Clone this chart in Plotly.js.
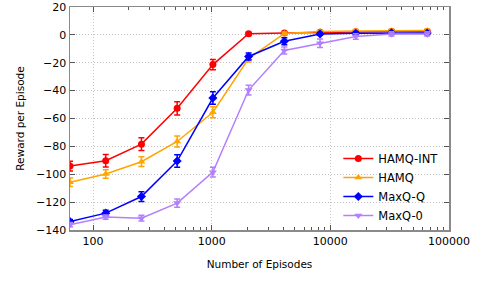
<!DOCTYPE html>
<html>
<head>
<meta charset="utf-8">
<script src="https://cdn.plot.ly/plotly-3.0.1.min.js"></script>
<style>html,body{margin:0;padding:0;background:#fff;}#chart{width:479px;height:281px;}</style>
</head>
<body>
<div id="chart"></div>
<script>
const episodes = [64, 128, 256, 512, 1024, 2048, 4096, 8192, 16384, 32768, 65536];

const hamqIntY   = [-94.1, -90.3, -78.4, -52.7, -21.3, 0.8, 1.3, 1.8, 2.3, 2.5, 2.5];
const hamqIntErr = [3.5, 4.5, 4.5, 4.8, 3.7, 1.0, 1.0, 1.0, 1.0, 1.0, 1.0];

const hamqY   = [-105.7, -99.8, -91.0, -76.5, -55.5, -17.0, 1.0, 2.4, 2.8, 3.0, 3.2];
const hamqErr = [3.0, 3.0, 3.5, 4.0, 4.0, 2.5, 1.0, 1.0, 1.0, 1.0, 1.0];

const maxqQY   = [-134.0, -127.9, -116.0, -90.5, -45.3, -15.5, -4.6, 0.7, 1.2, 1.5, 1.3];
const maxqQErr = [1.5, 2.0, 3.5, 4.5, 4.5, 2.5, 2.5, 1.0, 1.0, 1.0, 1.0];

const maxq0Y   = [-136.2, -130.7, -131.5, -120.7, -98.5, -39.6, -11.2, -6.0, -1.2, 0.7, 0.7];
const maxq0Err = [1.5, 1.5, 2.0, 3.0, 3.5, 3.5, 2.5, 3.0, 2.0, 1.5, 1.5];

const names   = ["HAMQ-INT", "HAMQ", "MaxQ-Q", "MaxQ-0"];
const colors  = ["#ff0000", "#ffa500", "#0000ff", "#b27fff"];
const symbols = ["circle", "triangle-up", "diamond", "triangle-down"];
const ys   = [hamqIntY, hamqY, maxqQY, maxq0Y];
const errs = [hamqIntErr, hamqErr, maxqQErr, maxq0Err];

const traces = names.map((n, i) => ({
  type: "scatter",
  mode: "lines+markers",
  name: n,
  x: episodes,
  y: ys[i],
  error_y: {type: "data", array: errs[i], visible: true, color: colors[i], thickness: 1.5, width: 3},
  line: {color: colors[i], width: 1.5},
  marker: {color: colors[i], symbol: symbols[i], size: 7}
}));

const font = {family: "DejaVu Sans, sans-serif", size: 11, color: "#000"};
const titleFont = {family: "DejaVu Sans, sans-serif", size: 10.5, color: "#000"};

const commonAxis = {
  ticks: "inside", tickcolor: "#555", tickwidth: 1,
  showline: true, linecolor: "#8a8a8a", linewidth: 1.5, mirror: "ticks",
  showgrid: true, gridcolor: "#c4c4c4", griddash: "1px,2px", gridwidth: 1,
  zeroline: false, tickfont: font
};

const layout = {
  width: 479, height: 281,
  margin: {l: 70, r: 30, t: 7, b: 51},
  paper_bgcolor: "#fff", plot_bgcolor: "#fff",
  font: font,
  showlegend: true,
  legend: {
    x: 0.985, xanchor: "right", y: 0.0, yanchor: "bottom",
    bgcolor: "rgba(255,255,255,0)",
    font: {family: "DejaVu Sans, sans-serif", size: 11.5, color: "#000"},
    tracegroupgap: 0, itemwidth: 30
  },
  xaxis: Object.assign({}, commonAxis, {
    type: "log",
    range: [Math.log10(64), 5],
    tickvals: [100, 1000, 10000, 100000],
    ticktext: ["100", "1000", "10000", "100000"],
    ticklen: 5,
    minor: {ticks: "inside", ticklen: 3, tickcolor: "#555", showgrid: false,
            tickvals: [200,300,400,500,600,700,800,900,2000,3000,4000,5000,6000,7000,8000,9000,20000,30000,40000,50000,60000,70000,80000,90000]},
    title: {text: "Number of Episodes", font: titleFont, standoff: 14}
  }),
  yaxis: Object.assign({}, commonAxis, {
    range: [-140, 20],
    dtick: 20, tick0: 0,
    ticklen: 5,
    title: {text: "Reward per Episode", font: titleFont, standoff: 9}
  })
};

Plotly.newPlot("chart", traces, layout, {displayModeBar: false, staticPlot: true});
</script>
</body>
</html>
